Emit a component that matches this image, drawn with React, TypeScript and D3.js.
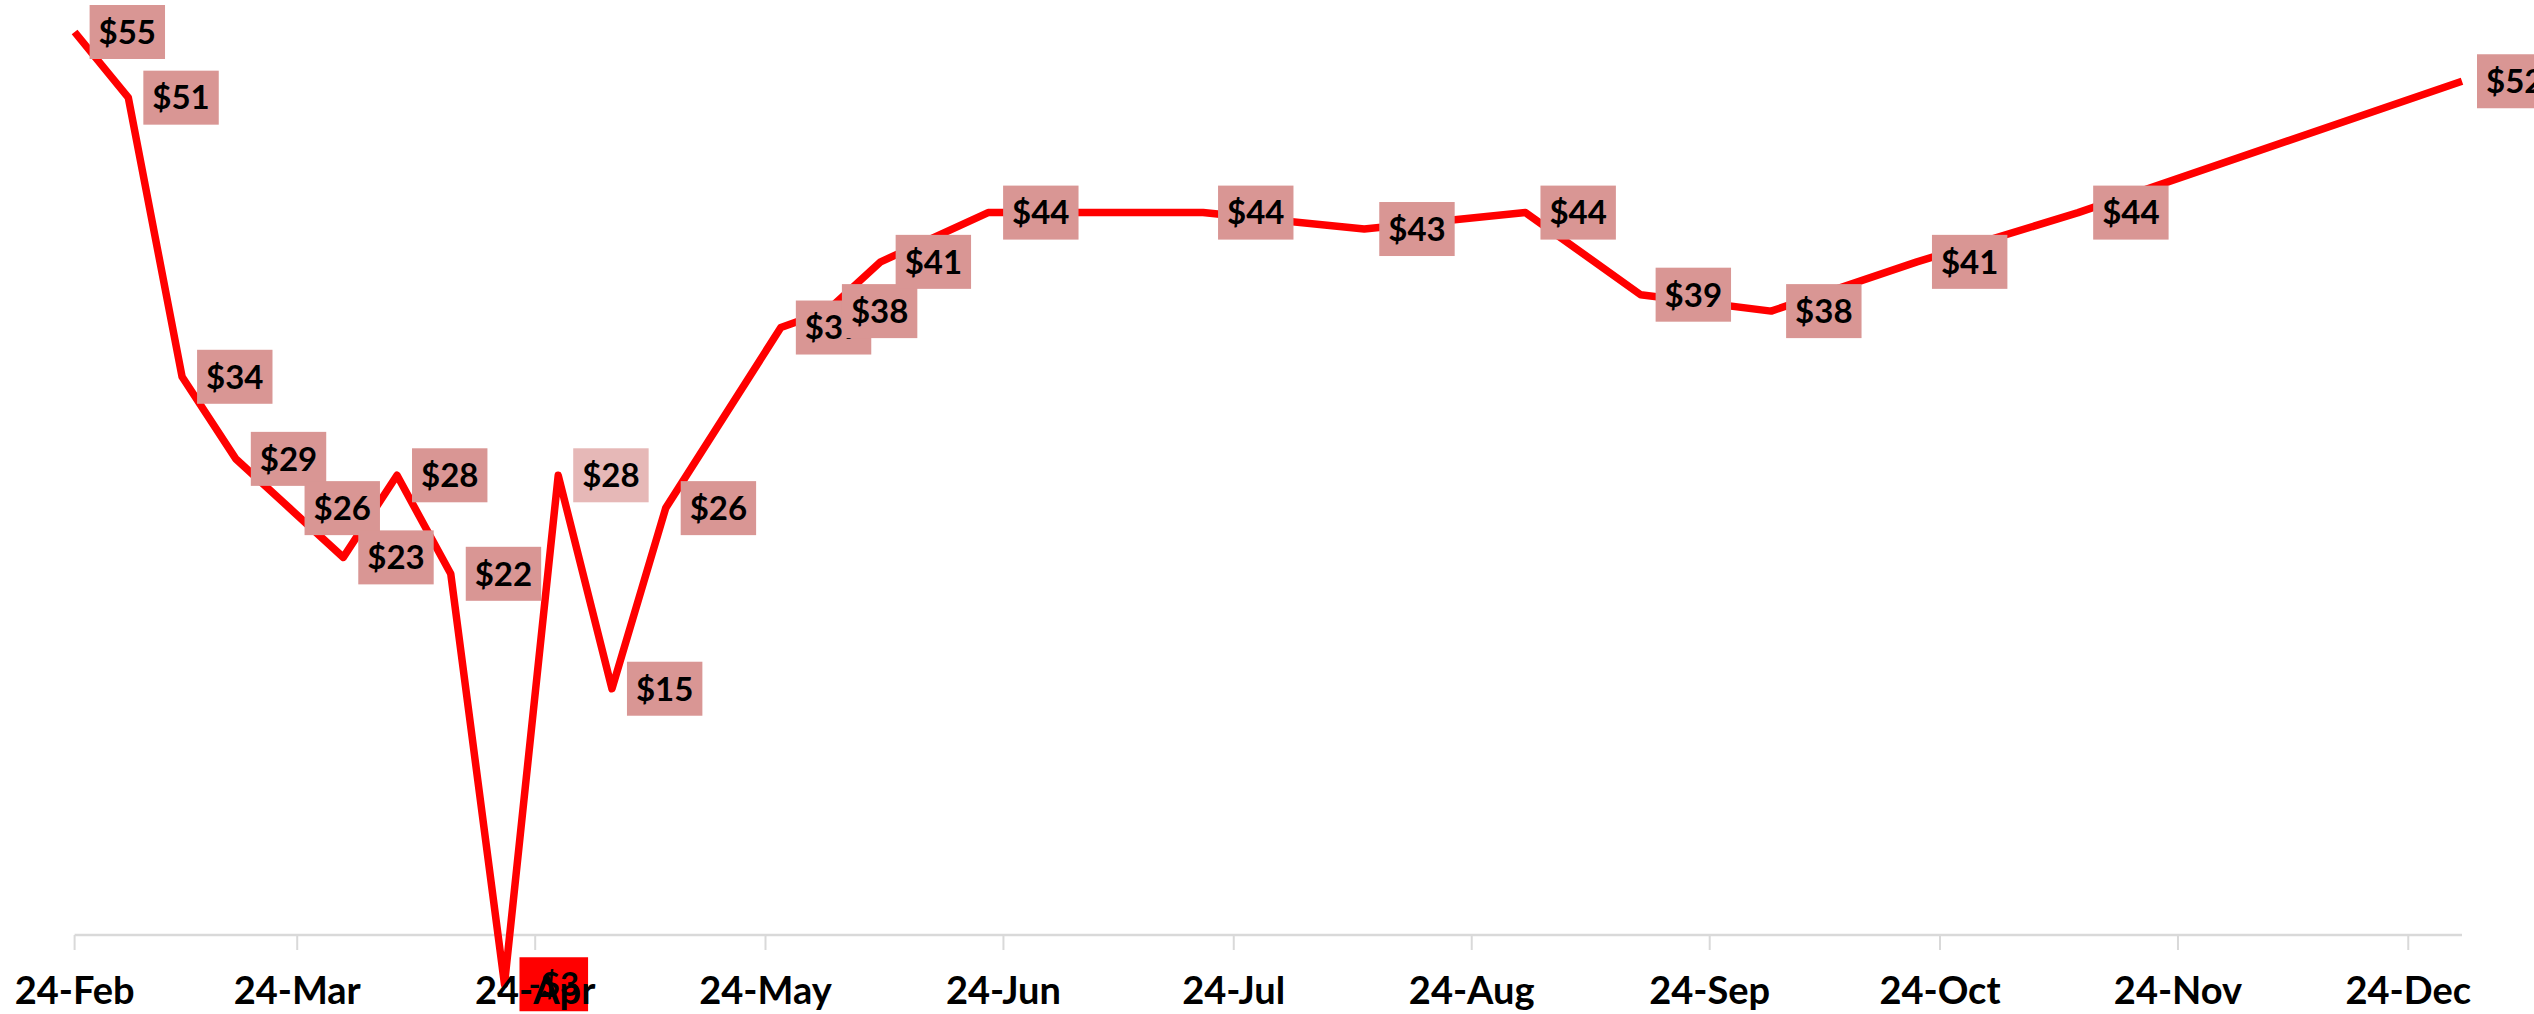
import React, { useEffect, useRef } from "react";
import * as d3 from "d3";

// Weekly-ish price observations (2020)
const dates: string[] = [
  "2020-02-24", "2020-03-02", "2020-03-09", "2020-03-16", "2020-03-23", "2020-03-30",
  "2020-04-06", "2020-04-13", "2020-04-20", "2020-04-27", "2020-05-04", "2020-05-11",
  "2020-05-26", "2020-06-01", "2020-06-08", "2020-06-22", "2020-07-20", "2020-08-10",
  "2020-08-31", "2020-09-15", "2020-10-02", "2020-10-21", "2020-11-11", "2020-12-31",
];
const prices: number[] = [
  55, 51, 34, 29, 26, 23,
  28, 22, -3, 28, 15, 26,
  37, 38, 41, 44, 44, 43,
  44, 39, 38, 41, 44, 52,
];
const tickLabels: string[] = [
  "24-Feb", "24-Mar", "24-Apr", "24-May", "24-Jun", "24-Jul",
  "24-Aug", "24-Sep", "24-Oct", "24-Nov", "24-Dec",
];
const tickYear = "2020";
const highlightDate = "2020-04-27";

export default function App() {
  const ref = useRef<SVGSVGElement>(null);

  useEffect(() => {
    const svg = d3.select(ref.current);
    svg.selectAll("*").remove();

    const parse = d3.utcParse("%Y-%m-%d");
    const pts = dates.map((d, i) => ({ key: d, date: parse(d) as Date, value: prices[i] }));

    const x = d3
      .scaleUtc()
      .domain([pts[0].date, pts[pts.length - 1].date])
      .range([74.6, 2462]);
    const y = d3.scaleLinear().domain([0, 55]).range([935, 32]);
    const axisY = y(0);

    // category axis line
    svg
      .append("line")
      .attr("x1", x.range()[0])
      .attr("x2", x.range()[1])
      .attr("y1", axisY)
      .attr("y2", axisY)
      .attr("stroke", "#d9d9d9")
      .attr("stroke-width", 2.5);

    const tickParse = d3.utcParse("%d-%b-%Y");
    const ticks = tickLabels.map((t) => ({ label: t, date: tickParse(t + "-" + tickYear) as Date }));

    svg
      .append("g")
      .selectAll("line")
      .data(ticks)
      .join("line")
      .attr("x1", (d) => x(d.date))
      .attr("x2", (d) => x(d.date))
      .attr("y1", axisY)
      .attr("y2", axisY + 15)
      .attr("stroke", "#d9d9d9")
      .attr("stroke-width", 2);

    // series line
    const line = d3
      .line<{ date: Date; value: number }>()
      .x((d) => x(d.date))
      .y((d) => y(d.value));
    svg
      .append("path")
      .datum(pts)
      .attr("d", line)
      .attr("fill", "none")
      .attr("stroke", "#ff0000")
      .attr("stroke-width", 7.5)
      .attr("stroke-linejoin", "round");

    // data labels
    const fmt = (v: number) => (v < 0 ? "-" : "") + "$" + d3.format(",.0f")(Math.abs(v));
    const fs = 33;
    const cap = 0.7165 * fs;
    const labels = svg.append("g");
    pts.forEach((p) => {
      const lg = labels.append("g");
      const rect = lg.append("rect");
      const t = lg
        .append("text")
        .text(fmt(p.value))
        .attr("font-family", "Lato, 'Open Sans', sans-serif")
        .attr("font-weight", 700)
        .attr("font-size", fs)
        .attr("fill", "#000");
      const w = (t.node() as SVGTextElement).getComputedTextLength();
      const left = x(p.date) + 15;
      const cy = y(p.value);
      const fill = p.value < 0 ? "#ff0000" : p.key === highlightDate ? "#e6b8b7" : "#d99694";
      rect
        .attr("x", left)
        .attr("y", cy - 27)
        .attr("width", w + 18)
        .attr("height", 54)
        .attr("fill", fill);
      t.attr("x", left + 9).attr("y", cy + cap / 2);
    });

    // tick labels
    svg
      .append("g")
      .selectAll("text")
      .data(ticks)
      .join("text")
      .attr("x", (d) => x(d.date))
      .attr("y", 1004)
      .attr("text-anchor", "middle")
      .attr("font-family", "Lato, 'Open Sans', sans-serif")
      .attr("font-weight", 700)
      .attr("font-size", 38)
      .attr("fill", "#000")
      .text((d) => d.label);
  }, []);

  return (
    <>
      <style>{"body{margin:0;}"}</style>
      <svg ref={ref} width={2534} height={1014} style={{ display: "block", background: "#fff" }} />
    </>
  );
}
